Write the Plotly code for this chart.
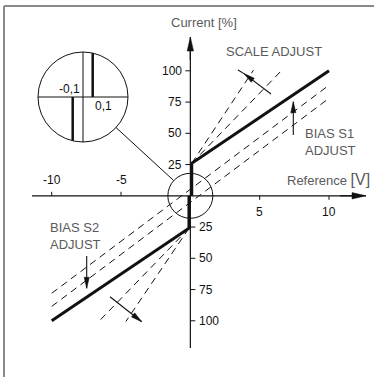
import math
import plotly.graph_objects as go

# chart values (x in V, y in %)
main_pos_x = [0.1, 0.1, 10]
main_pos_y = [0, 26, 100]
main_neg_x = [-0.1, -0.1, -10]
main_neg_y = [0, -26, -100]

bias_a_x = [-10, 10]
bias_a_y = [-78, 88.5]
bias_b_x = [-10, 10]
bias_b_y = [-88.5, 78]

scale_pos_x = [[0.1, 4.55], [0.1, 6.6]]
scale_pos_y = [[26, 100.5], [26, 100.5]]
scale_neg_x = [[-0.1, -4.65], [-0.1, -6.6]]
scale_neg_y = [[-26, -100.5], [-26, -100.5]]

x_ticks = [-10, -5, 5, 10]
x_tick_text = ['-10', '-5', '5', '10']
y_ticks = [100, 75, 50, 25, -25, -50, -75, -100]
y_tick_text = ['100', '75', '50', '25', '25', '50', '75', '100']

# pixel scale of the drawing
PX_X = 13.865
PX_Y = 1.25
X0 = 190.35
Y0 = 195.8

def dx(px):
    return (px - X0) / PX_X

def dy(py):
    return (Y0 - py) / PX_Y

def to_px(x, y):
    return X0 + x * PX_X, Y0 - y * PX_Y

BLACK = '#111111'
GRAY = '#5a5a5a'
TICK_FONT = dict(family='Liberation Sans', size=12, color=BLACK)
LABEL_FONT = dict(family='Liberation Sans', size=13, color=GRAY)

fig = go.Figure()

def line(x, y, width=1, dash=None):
    fig.add_trace(go.Scatter(x=x, y=y, mode='lines', hoverinfo='skip',
                             line=dict(color=BLACK, width=width, dash=dash),
                             showlegend=False))

def arrow(x0, y0, x1, y1, length=11, half=2.6, width=1.1):
    # shaft plus a filled narrow head with its tip at (x1, y1)
    line([x0, x1], [y0, y1], width)
    px0, py0 = to_px(x0, y0)
    px1, py1 = to_px(x1, y1)
    d = math.hypot(px1 - px0, py1 - py0)
    ux, uy = (px1 - px0) / d, (py1 - py0) / d
    bx, by = px1 - ux * length, py1 - uy * length
    pts = [(px1, py1), (bx - uy * half, by + ux * half), (bx + uy * half, by - ux * half), (px1, py1)]
    fig.add_trace(go.Scatter(x=[dx(p[0]) for p in pts], y=[dy(p[1]) for p in pts],
                             mode='lines', fill='toself', fillcolor=BLACK,
                             line=dict(color=BLACK, width=0.5), hoverinfo='skip',
                             showlegend=False))

# axes
line([dx(32), dx(358)], [0, 0], 1.2)
line([0, 0], [dy(348), dy(45)], 1.2)
arrow(dx(340), 0, dx(366), 0, 14, 3.2, 1.2)
arrow(0, dy(60), 0, dy(37), 14, 3.2, 1.2)

# main characteristic
line(main_pos_x, main_pos_y, 3)
line(main_neg_x, main_neg_y, 3)

# bias lines
line(bias_a_x, bias_a_y, 1, '7px,5px')
line(bias_b_x, bias_b_y, 1, '7px,5px')

# scale lines
for xs, ys in zip(scale_pos_x + scale_neg_x, scale_pos_y + scale_neg_y):
    line(xs, ys, 1, '7px,5px')

# ticks
for v in x_ticks:
    sgn = 1 if v < 0 else -1
    line([v, v], [0, sgn * 4 / PX_Y], 1)
for v in y_ticks:
    sgn = -1 if v > 0 else 1
    line([0, sgn * 5 / PX_X], [v, v], 1)

# scale adjust arrows
line([dx(244), dx(238)], [dy(73.6), dy(70)], 1.1)
arrow(dx(271), dy(94), dx(244), dy(73.6))
arrow(dx(110), dy(296.7), dx(141.7), dy(321.7))

# bias adjust arrows
arrow(dx(293.3), dy(135), dx(293.3), dy(101.7))
arrow(dx(86.7), dy(256), dx(86.7), dy(288.3))

ann = []
for v, t in zip(x_ticks, x_tick_text):
    ann.append(dict(x=v, y=(13 if v < 0 else -13), text=t, showarrow=False,
                    font=TICK_FONT))
for v, t in zip(y_ticks, y_tick_text):
    if v > 0:
        ann.append(dict(x=-0.45, y=v, text=t, showarrow=False, xanchor='right',
                        font=TICK_FONT))
    else:
        ann.append(dict(x=0.45, y=v, text=t, showarrow=False, xanchor='left',
                        font=TICK_FONT))

ann += [
    dict(x=dx(204), y=dy(22), text='Current [%]', showarrow=False, font=LABEL_FONT),
    dict(x=dx(274), y=dy(51), text='SCALE ADJUST', showarrow=False, font=LABEL_FONT),
    dict(x=dx(303), y=dy(142), text='BIAS S1<br>ADJUST', showarrow=False, align='left',
         xanchor='left', font=LABEL_FONT),
    dict(x=dx(48), y=dy(236), text='BIAS S2<br>ADJUST', showarrow=False, align='left',
         xanchor='left', font=LABEL_FONT),
    dict(x=dx(372), y=dy(179), text='Reference <span style="font-size:16px">[V]</span>',
         showarrow=False, xanchor='right', font=LABEL_FONT),
    dict(x=dx(82), y=dy(89), text='-0,1', showarrow=False, xanchor='right', font=TICK_FONT),
    dict(x=dx(93), y=dy(106), text='0,1', showarrow=False, xanchor='left', font=TICK_FONT),
]

# magnifier
cx, cy, r = dx(83), dy(97), 45
rx, ry = r / PX_X, r / PX_Y
shapes = [
    dict(type='circle', xref='x', yref='y', x0=cx - rx, x1=cx + rx, y0=cy - ry, y1=cy + ry,
         line=dict(color=BLACK, width=1)),
    dict(type='circle', xref='x', yref='y', x0=-22.5 / PX_X, x1=22.5 / PX_X,
         y0=-22.5 / PX_Y, y1=22.5 / PX_Y, line=dict(color=BLACK, width=1)),
    dict(type='line', xref='x', yref='y', x0=cx - rx, x1=cx + rx, y0=cy, y1=cy,
         line=dict(color=BLACK, width=1)),
    dict(type='line', xref='x', yref='y', x0=cx, x1=cx, y0=cy - ry, y1=cy + ry,
         line=dict(color=BLACK, width=1)),
    dict(type='line', xref='x', yref='y', x0=cx + 9.7 / PX_X, x1=cx + 9.7 / PX_X,
         y0=cy, y1=cy + 43.9 / PX_Y, line=dict(color=BLACK, width=2.5)),
    dict(type='line', xref='x', yref='y', x0=cx - 10.3 / PX_X, x1=cx - 10.3 / PX_X,
         y0=cy, y1=cy - 43.8 / PX_Y, line=dict(color=BLACK, width=2.5)),
    dict(type='line', xref='x', yref='y', x0=dx(116), y0=dy(127.5), x1=dx(173.4), y1=dy(180.3),
         line=dict(color=BLACK, width=1)),
    # frame
    dict(type='line', xref='paper', yref='paper', x0=4 / 374, x1=1, y0=1 - 6 / 377, y1=1 - 6 / 377,
         line=dict(color='#8a8a8a', width=2)),
    dict(type='line', xref='paper', yref='paper', x0=4 / 374, x1=4 / 374, y0=0, y1=1 - 6 / 377,
         line=dict(color='#8a8a8a', width=2)),
]

fig.update_layout(
    width=374, height=377,
    margin=dict(l=0, r=0, t=0, b=0),
    paper_bgcolor='white', plot_bgcolor='white',
    xaxis=dict(visible=False, range=[dx(0), dx(374)], fixedrange=True),
    yaxis=dict(visible=False, range=[dy(377), dy(0)], fixedrange=True),
    annotations=ann,
    shapes=shapes,
    showlegend=False,
)

# page body has a default margin; drop it so the figure sits at the window corner
fig.write_html("out.html", config={'displayModeBar': False},
               post_script="document.body.style.margin='0px';document.body.style.overflow='hidden';")
